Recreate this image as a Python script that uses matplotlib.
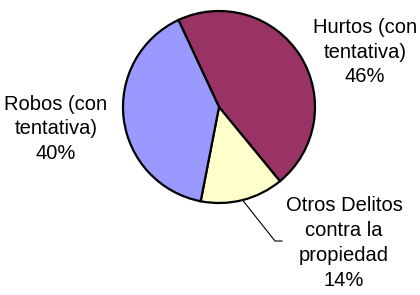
import numpy as np
import matplotlib
matplotlib.use("Agg")
import matplotlib.pyplot as plt

categories = ["Hurtos (con\ntentativa)", "Otros Delitos\ncontra la\npropiedad", "Robos (con\ntentativa)"]
shares = [46, 14, 40]
colors = ["#993366", "#FFFFCC", "#9999FF"]

W, H = 420, 295
CX, CY, R = 219, H - 107, 96
START = 115

fig = plt.figure(figsize=(W / 100, H / 100), dpi=100, facecolor="white")
ax = fig.add_axes([0, 0, 1, 1])

wedges, _ = ax.pie(shares, colors=colors, startangle=START, counterclock=False,
                   center=(CX, CY), radius=R, frame=True,
                   wedgeprops=dict(edgecolor="black", linewidth=1.6))
ax.set_xlim(0, W)
ax.set_ylim(0, H)
ax.set_aspect("equal")
ax.axis("off")

font = ["Liberation Sans", "DejaVu Sans"]
label_pos = [(365, H - 52), (344, H - 243), (56, H - 129)]
for name, val, (x, y) in zip(categories, shares, label_pos):
    ax.text(x, y, f"{name}\n{val}%", ha="center", va="center", fontsize=14.5,
            family=font, linespacing=1.38)

# leader line for the small slice
w = wedges[1]
mid = np.deg2rad((w.theta1 + w.theta2) / 2)
px, py = CX + R * np.cos(mid), CY + R * np.sin(mid)
ax.plot([px, 275, 282], [py, H - 241, H - 241], color="black", lw=0.8)

fig.savefig("out.png", dpi=100, facecolor="white")
